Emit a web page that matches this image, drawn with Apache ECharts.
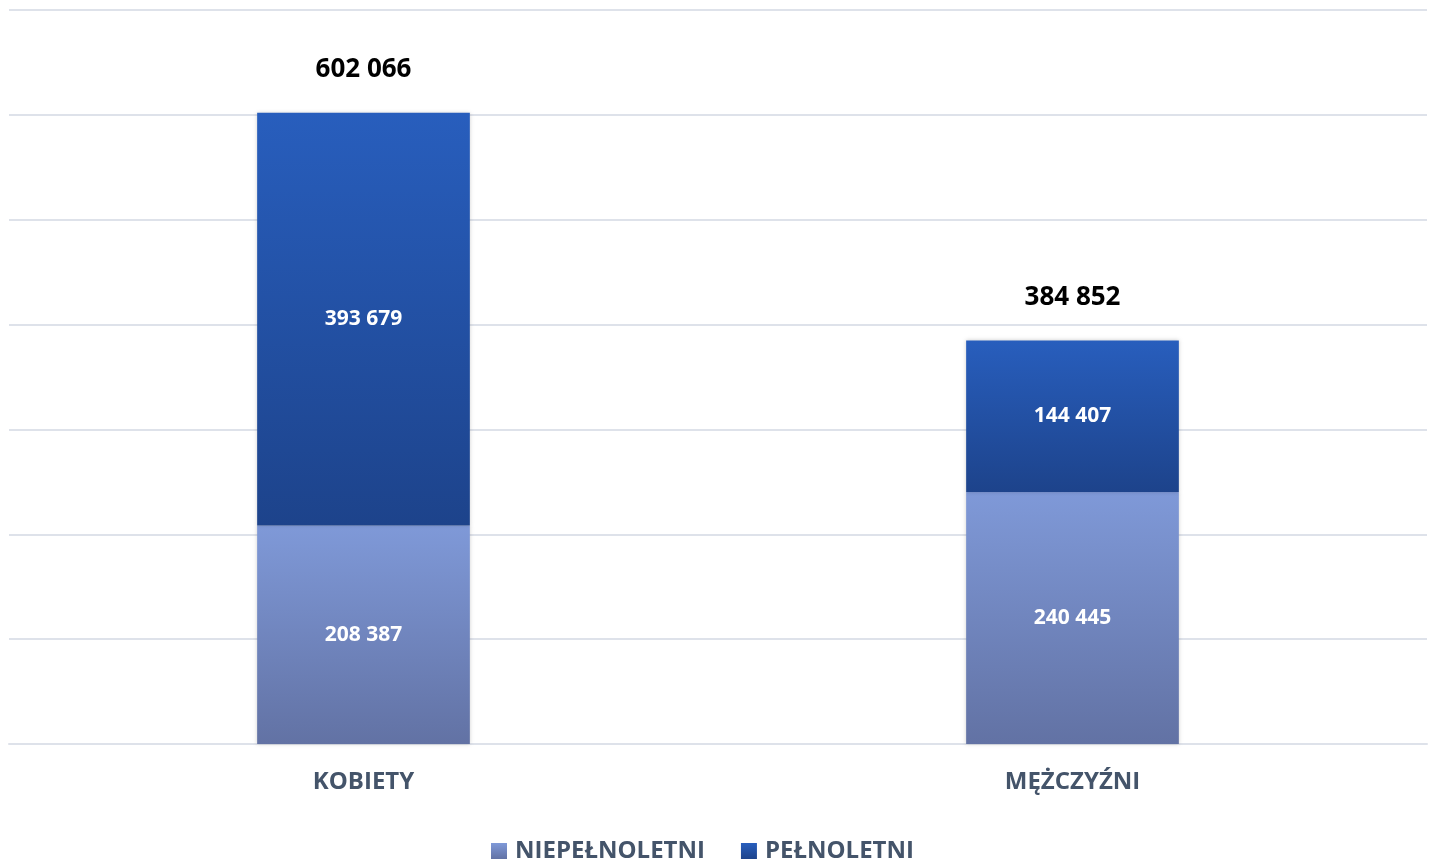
<!DOCTYPE html>
<html>
<head>
<meta charset="utf-8">
<script src="https://cdn.jsdelivr.net/npm/echarts@6/dist/echarts.min.js"></script>
<style>
  html, body { margin: 0; padding: 0; background: #fff; }
  #chart { width: 1437px; height: 862px; }
</style>
</head>
<body>
<div id="chart"></div>
<script>
// dane
const categories = ['KOBIETY', 'MĘŻCZYŹNI'];
const niepelnoletni = [208387, 240445];
const pelnoletni = [393679, 144407];
const totals = [602066, 384852];
const seriesNames = ['NIEPEŁNOLETNI', 'PEŁNOLETNI'];

const fontFamily = '"Open Sans", "Noto Sans", sans-serif';
const fmt = v => String(v).replace(/\B(?=(\d{3})+(?!\d))/g, ' ');

const chart = echarts.init(document.getElementById('chart'));

chart.setOption({
  backgroundColor: '#fff',
  animation: false,
  grid: {
    left: 9,
    right: 10,
    top: 10,
    bottom: 118
  },
  legend: {
    top: 834,
    left: 486,
    itemWidth: 16,
    itemHeight: 16,
    itemGap: 36,
    icon: 'rect',
    textStyle: {
      color: '#44546a',
      fontSize: 24,
      fontWeight: 'bold',
      fontFamily: fontFamily,
      padding: [0, 0, 0, 3]
    },
    data: seriesNames
  },
  xAxis: {
    type: 'category',
    data: categories,
    axisTick: { show: false },
    axisLine: {
      show: true,
      lineStyle: { color: '#dee2ea', width: 2 }
    },
    axisLabel: {
      color: '#44546a',
      fontSize: 24,
      fontWeight: 'bold',
      fontFamily: fontFamily,
      margin: 26
    }
  },
  yAxis: {
    type: 'value',
    min: 0,
    max: 700000,
    interval: 100000,
    axisLabel: { show: false },
    axisLine: { show: false },
    axisTick: { show: false },
    splitLine: {
      lineStyle: { color: '#dee2ea', width: 2 }
    }
  },
  series: [
    {
      name: seriesNames[0],
      type: 'bar',
      stack: 'total',
      barWidth: '30%',
      data: niepelnoletni,
      itemStyle: {
        color: new echarts.graphic.LinearGradient(0, 0, 0, 1, [
          { offset: 0, color: '#7f99d8' },
          { offset: 1, color: '#6272a4' }
        ]),
        shadowBlur: 4,
        shadowColor: 'rgba(0,0,0,0.18)'
      },
      label: {
        show: true,
        position: 'inside',
        color: '#fff',
        fontSize: 21,
        fontWeight: 'bold',
        fontFamily: fontFamily,
        formatter: p => fmt(p.value)
      }
    },
    {
      name: seriesNames[1],
      type: 'bar',
      stack: 'total',
      barWidth: '30%',
      data: pelnoletni,
      itemStyle: {
        color: new echarts.graphic.LinearGradient(0, 0, 0, 1, [
          { offset: 0, color: '#285ebd' },
          { offset: 1, color: '#1d438b' }
        ]),
        shadowBlur: 4,
        shadowColor: 'rgba(0,0,0,0.18)'
      },
      label: {
        show: true,
        position: 'inside',
        color: '#fff',
        fontSize: 21,
        fontWeight: 'bold',
        fontFamily: fontFamily,
        formatter: p => fmt(p.value)
      }
    },
    {
      // etykiety sum nad słupkami
      name: 'SUMA',
      type: 'bar',
      stack: 'total',
      barWidth: '30%',
      data: totals.map(() => 0),
      itemStyle: { color: 'transparent' },
      label: {
        show: true,
        position: 'top',
        distance: 30,
        color: '#000',
        fontSize: 26,
        fontWeight: 'bold',
        fontFamily: fontFamily,
        formatter: p => fmt(totals[p.dataIndex])
      }
    }
  ]
});
</script>
</body>
</html>
